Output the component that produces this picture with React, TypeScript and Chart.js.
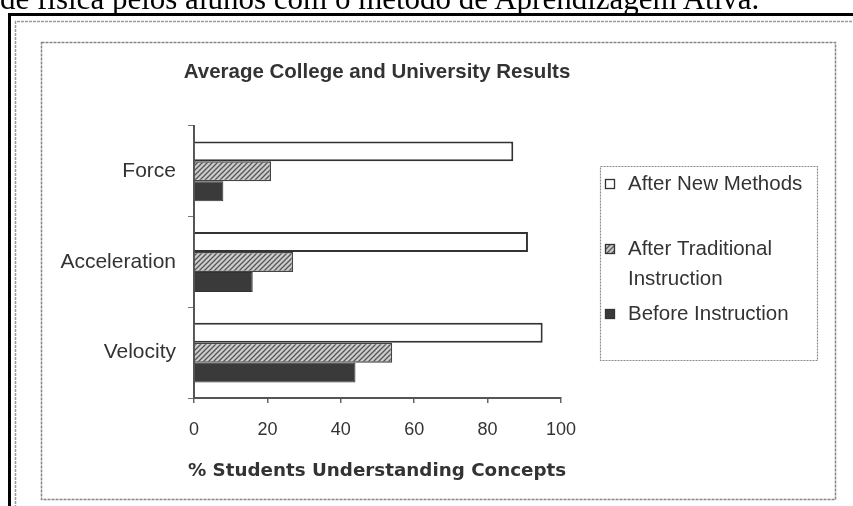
import React, { useEffect, useRef } from "react";
import { Chart, registerables } from "chart.js";

Chart.register(...registerables);

const categories = ["Force", "Acceleration", "Velocity"];
const seriesLabels = ["After New Methods", "After Traditional Instruction", "Before Instruction"];
const legendLines = [["After New Methods"], ["After Traditional", "Instruction"], ["Before Instruction"]];
const afterNewMethods = [87, 91, 95];
const afterTraditional = [21, 27, 54];
const beforeInstruction = [8, 16, 44];
const xTickStep = 20;
const xMin = 0;
const xMax = 100;
const chartTitle = "Average College and University Results";
const xAxisTitle = "% Students Understanding Concepts";
const caption = "de física pelos alunos com o método de Aprendizagem Ativa.";

function makeHatch(): CanvasPattern | string {
  const c = document.createElement("canvas");
  c.width = 5;
  c.height = 5;
  const g = c.getContext("2d");
  if (!g) return "#999";
  g.fillStyle = "#cdcdcd";
  g.fillRect(0, 0, 5, 5);
  g.strokeStyle = "#555";
  g.lineWidth = 1.3;
  g.beginPath();
  g.moveTo(0, 5);
  g.lineTo(5, 0);
  g.moveTo(-1, 1);
  g.lineTo(1, -1);
  g.moveTo(4, 6);
  g.lineTo(6, 4);
  g.stroke();
  return g.createPattern(c, "repeat") || "#999";
}

const decorations = {
  id: "decorations",
  beforeDraw(chart: any) {
    const ctx = chart.ctx as CanvasRenderingContext2D;
    ctx.save();
    // page frame (black lines)
    ctx.fillStyle = "#000";
    ctx.fillRect(8, 13, 845, 3);
    ctx.fillRect(8, 13, 3, 493);
    // outer dashed frame
    ctx.strokeStyle = "#9a9a9a";
    ctx.lineWidth = 1.5;
    ctx.setLineDash([3, 1]);
    ctx.beginPath();
    ctx.moveTo(15.5, 520);
    ctx.lineTo(15.5, 21.5);
    ctx.lineTo(860, 21.5);
    ctx.stroke();
    // inner chart frame
    ctx.strokeStyle = "#858585";
    ctx.strokeRect(41.5, 42.5, 794, 457);
    ctx.setLineDash([]);
    // title
    ctx.fillStyle = "#333";
    ctx.font = "bold 20.5px 'Liberation Sans', Arial, sans-serif";
    ctx.textAlign = "center";
    ctx.textBaseline = "middle";
    ctx.fillText(chartTitle, 377, 72);
    // axis title
    ctx.font = "bold 18.3px 'DejaVu Sans', sans-serif";
    ctx.fillText(xAxisTitle, 377, 471);
    ctx.restore();
  },
  afterDraw(chart: any) {
    const ctx = chart.ctx as CanvasRenderingContext2D;
    ctx.save();
    // legend box
    ctx.strokeStyle = "#8a8a8a";
    ctx.lineWidth = 1.2;
    ctx.setLineDash([2, 1]);
    ctx.strokeRect(600.5, 166.5, 217, 194);
    ctx.setLineDash([]);
    const rowsY = [184, 249, 314];
    ctx.font = "20.5px 'Liberation Sans', Arial, sans-serif";
    ctx.textAlign = "left";
    ctx.textBaseline = "middle";
    chart.data.datasets.forEach((ds: any, i: number) => {
      const y = rowsY[i];
      ctx.fillStyle = ds.backgroundColor;
      ctx.fillRect(605, y - 5, 10, 10);
      ctx.strokeStyle = "#333";
      ctx.lineWidth = 1.3;
      ctx.strokeRect(605.5, y - 4.5, 9, 9);
      ctx.fillStyle = "#333";
      legendLines[i].forEach((line, j) => {
        ctx.fillText(line, 628, y + j * 30);
      });
    });
    ctx.restore();
  },
};

export default function App() {
  const canvasRef = useRef<HTMLCanvasElement | null>(null);

  useEffect(() => {
    if (!canvasRef.current) return;
    const hatch = makeHatch();
    const chart = new Chart(canvasRef.current, {
      type: "bar",
      data: {
        labels: categories,
        datasets: [
          {
            label: seriesLabels[0],
            data: afterNewMethods,
            backgroundColor: "#ffffff",
            borderColor: "#333",
            borderWidth: 2,
          },
          {
            label: seriesLabels[1],
            data: afterTraditional,
            backgroundColor: hatch as any,
            borderColor: "#444",
            borderWidth: 1.5,
          },
          {
            label: seriesLabels[2],
            data: beforeInstruction,
            backgroundColor: "#3a3a3a",
            borderColor: "#333",
            borderWidth: 1,
          },
        ],
      },
      options: {
        indexAxis: "y",
        responsive: false,
        animation: false,
        layout: { padding: { left: 0, right: 292, top: 126, bottom: 0 } },
        datasets: { bar: { categoryPercentage: 0.66, barPercentage: 1 } },
        plugins: {
          legend: { display: false },
          title: { display: false },
          tooltip: { enabled: false },
        },
        scales: {
          x: {
            min: xMin,
            max: xMax,
            ticks: {
              stepSize: xTickStep,
              color: "#333",
              font: { family: "'Liberation Sans', Arial, sans-serif", size: 18 },
              padding: 16,
            },
            grid: { drawOnChartArea: false, tickLength: 5, color: "#666", lineWidth: 1.5 },
            border: { color: "#555", width: 2 },
            afterFit: (s: any) => {
              s.height = 108;
            },
          },
          y: {
            ticks: {
              color: "#333",
              font: { family: "'Liberation Sans', Arial, sans-serif", size: 21 },
              padding: 12,
            },
            grid: { drawOnChartArea: false, tickLength: 6, color: "#777", offset: true },
            border: { color: "#555", width: 2 },
            afterFit: (s: any) => {
              s.width = 194;
            },
          },
        },
      },
      plugins: [decorations],
    });
    return () => chart.destroy();
  }, []);

  return (
    <div
      style={{
        position: "fixed",
        left: 0,
        top: 0,
        width: 853,
        height: 506,
        overflow: "hidden",
        background: "#ffffff",
      }}
    >
      <canvas
        ref={canvasRef}
        width={853}
        height={506}
        style={{ position: "absolute", left: 0, top: 0, width: 853, height: 506 }}
      />
      <div
        style={{
          position: "absolute",
          left: 0,
          top: -17,
          fontFamily: "'Liberation Serif', 'Times New Roman', serif",
          fontSize: 31,
          lineHeight: "31px",
          whiteSpace: "nowrap",
          color: "#000",
          zIndex: 1,
        }}
      >
        {caption}
      </div>
    </div>
  );
}
